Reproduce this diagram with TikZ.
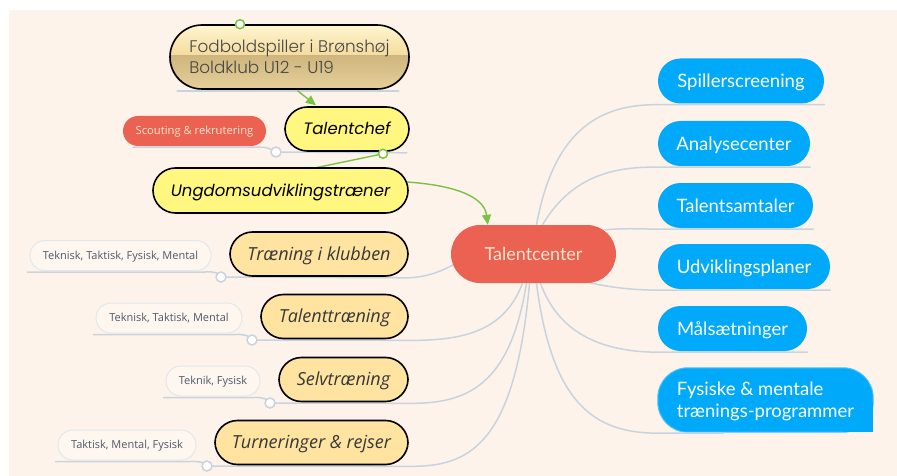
\documentclass[tikz,border=0pt]{standalone}
\usepackage{fontspec}
\usetikzlibrary{arrows.meta,calc}
\setmainfont{Lato}
\newfontfamily\lato{Lato}
\newfontfamily\osans{Open Sans}
\newfontfamily\pop{Poppins}
\newfontfamily\hand{Poppins Light}
\definecolor{peach}{HTML}{FDF3EA}
\definecolor{lgray}{HTML}{C9D3DE}
\definecolor{blue1}{HTML}{00A9FA}
\definecolor{red1}{HTML}{EB6152}
\definecolor{cream}{HTML}{FFE6CC}
\definecolor{orange1}{HTML}{FFE3A1}
\definecolor{yellow1}{HTML}{FFF77F}
\definecolor{green1}{HTML}{7CC242}
\definecolor{subtext}{HTML}{505868}
\definecolor{subborder}{HTML}{E4E6EA}
\definecolor{subfill}{HTML}{FEF7F0}
\definecolor{fbtop}{HTML}{FFF6D2}
\definecolor{fbmid}{HTML}{F4DB9C}
\definecolor{fbstep}{HTML}{CFB67E}
\definecolor{fbbot}{HTML}{E6D09A}
\pgfdeclarelayer{bgzero}
\pgfdeclarelayer{background}
\pgfsetlayers{bgzero,background,main}
\tikzset{
  bluebox/.style={rectangle, rounded corners=22.5, fill=blue1, text=white,
    font=\lato\fontsize{18.5}{21}\selectfont, minimum height=45, inner sep=0, text height=13.2, text depth=0},
  orangebox/.style={rectangle, rounded corners=22.5, fill=orange1, draw=black, line width=1.6,
    text=black!78, font=\osans\itshape\fontsize{18}{20}\selectfont, minimum height=44, inner sep=0,
    text height=12.9, text depth=0},
  yellowbox/.style={rectangle, rounded corners=22.5, fill=yellow1, draw=black, line width=1.6,
    text=black, font=\pop\itshape\fontsize{16.5}{20}\selectfont, minimum height=44, inner sep=0,
    text height=11.6, text depth=0},
  subbox/.style={rectangle, rounded corners=15, fill=subfill, draw=subborder, line width=1,
    text=subtext, font=\osans\fontsize{11}{13}\selectfont, minimum height=30, inner sep=0,
    text height=7.9, text depth=0},
  hub/.style={circle, draw=lgray, fill=white, line width=1.5, minimum size=10, inner sep=0},
  ghub/.style={circle, draw=green1, fill=white, line width=1.5, minimum size=9, inner sep=0},
  conn/.style={draw=lgray, line width=1.5, line cap=round},
  gline/.style={draw=green1, line width=1.4, line join=round, -{Triangle[length=10pt,width=9pt]}},
}
\begin{document}
\begin{tikzpicture}[x=1pt,y=-1pt]
\useasboundingbox (0,0) rectangle (897,476);
\begin{pgfonlayer}{bgzero}
\fill[white] (0,0) rectangle (897,476);
\fill[peach] (9,10) rectangle (897,476);
\end{pgfonlayer}

% central node
\node[rectangle, rounded corners=29, fill=red1, text=cream, minimum width=165, minimum height=58,
  inner sep=0, text height=12.9, text depth=0, font=\lato\fontsize{18}{21}\selectfont] (tc) at (533.5,254) {Talentcenter};

% right blue nodes
\node[bluebox, minimum width=166] (sp) at (741,81) {Spillerscreening};
\node[bluebox, minimum width=152] (ac) at (734,143.5) {Analysecenter};
\node[bluebox, minimum width=155] (ts) at (735.5,205.5) {Talentsamtaler};
\node[bluebox, minimum width=172] (up) at (744,266.5) {Udviklingsplaner};
\node[bluebox, minimum width=149] (ms) at (732.5,328.5) {Målsætninger};
\node[rectangle, minimum width=215, minimum height=64, inner sep=0, text=white, align=left,
  font=\lato\fontsize{18.5}{22}\selectfont] (fm) at (765.5,401) {Fysiske \& mentale\\trænings-programmer};
\begin{pgfonlayer}{background}
\fill[blue1, draw=blue1!70!white, line width=1, rounded corners=30] ($(fm.south west)+(0,-1)$) rectangle ($(fm.north east)+(0,-1)$);
\fill[blue1] ($(fm.south east)+(-30,-1.5)$) rectangle ($(fm.south east)+(-0.5,-31)$);
\end{pgfonlayer}

% left orange nodes
\node[orangebox, minimum width=178] (tk) at (319,254) {Træning i klubben};
\node[orangebox, minimum width=147] (tt) at (334.5,316.5) {Talenttræning};
\node[orangebox, minimum width=129] (st) at (343.5,379.5) {Selvtræning};
\node[orangebox, minimum width=193] (tr) at (311.5,442.5) {Turneringer \& rejser};

% sub nodes
\node[subbox, minimum width=181] (s1) at (120.5,255.5) {Teknisk, Taktisk, Fysisk, Mental};
\node[subbox, minimum width=146] (s2) at (169,318) {Teknisk, Taktisk, Mental};
\node[subbox, minimum width=94] (s3) at (213,381) {Teknik, Fysisk};
\node[subbox, minimum width=138] (s4) at (127,445) {Taktisk, Mental, Fysisk};

% hubs
\node[hub] (ctk) at (221,277) {};
\node[hub] (ctt) at (252,340) {};
\node[hub] (cst) at (270,403) {};
\node[hub] (ctr) at (207,466) {};

% top-left nodes
\node[rectangle, rounded corners=32, draw=black, line width=1.6, minimum width=239, minimum height=64,
  inner sep=0, text=black!72, align=left, font=\hand\fontsize{16.8}{21.5}\selectfont] (fb) at (289.5,57)
  {Fodboldspiller i Brønshøj\\Boldklub U12 - U19};
\begin{pgfonlayer}{background}
\begin{scope}
\clip[rounded corners=32] (fb.south west) rectangle (fb.north east);
\shade[top color=fbtop, bottom color=fbmid] (fb.north west) rectangle ($(fb.east)+(0,-1)$);
\shade[top color=fbstep, bottom color=fbbot] ($(fb.west)+(0,-1)$) rectangle (fb.south east);
\end{scope}
\end{pgfonlayer}
\node[yellowbox, minimum width=124] (tch) at (347,129) {Talentchef};
\node[yellowbox, minimum width=255, minimum height=45] (ud) at (280.5,190.5) {Ungdomsudviklingstræner};
\node[rectangle, rounded corners=15, fill=red1, text=cream, minimum width=143, minimum height=30, inner sep=0,
  text height=8, text depth=0, font=\osans\fontsize{11.2}{13}\selectfont] (sc) at (194.5,131) {Scouting \& rekrutering};
\node[hub] (csc) at (276,152) {};
\node[ghub] (g1) at ($(fb.north)+(-49.5,0)$) {};
\node[ghub] (g2) at ($(tch.south)+(36,2)$) {};

\begin{pgfonlayer}{background}
% right connectors
\draw[conn] ($(tc.north)+(3,0)$) .. controls (553,135) and (595,104) .. ($(sp.south west)+(0,1)$) -- ($(sp.south east)+(0,1)$);
\draw[conn] ($(tc.north)+(9,0)$) .. controls (568,182) and (605,166) .. ($(ac.south west)+(0,1)$) -- ($(ac.south east)+(0,1)$);
\draw[conn] ($(tc.north east)+(-11,5)$) .. controls (625,228) and (640,229) .. ($(ts.south west)+(0,1)$) -- ($(ts.south east)+(0,1)$);
\draw[conn] ($(tc.south east)+(-29,-1)$) .. controls (612,288) and (635,290) .. ($(up.south west)+(0,1)$) -- ($(up.south east)+(0,1)$);
\draw[conn] ($(tc.south)+(7,0)$) .. controls (558,332) and (600,352) .. ($(ms.south west)+(0,1)$) -- ($(ms.south east)+(0,1)$);
\draw[conn] ($(tc.south)+(3,0)$) .. controls (552,405) and (595,433) .. ($(fm.south west)+(0,0)$) -- ($(fm.south east)+(-150,0)$);
% left connectors
\draw[conn] ($(tc.west)+(2,11)$) .. controls (438,273) and (425,277) .. ($(tk.south east)+(0,1)$) -- (ctk);
\draw[conn] ($(tc.south)+(-11,0)$) .. controls (505,330) and (465,341) .. ($(tt.south east)+(0,1)$) -- (ctt);
\draw[conn] ($(tc.south)+(-7,0)$) .. controls (510,385) and (468,404) .. ($(st.south east)+(0,1)$) -- (cst);
\draw[conn] ($(tc.south)+(-4,0)$) .. controls (515,447) and (468,467) .. ($(tr.south east)+(0,1)$) -- (ctr);
% sub connectors
\draw[conn] ($(s1.south west)+(-2,1)$) -- ($(s1.south east)+(-6,1)$) .. controls (214,271) and (218,274) .. (ctk);
\draw[conn] ($(s2.south west)+(-2,1)$) -- ($(s2.south east)+(-6,1)$) .. controls (245,334) and (249,337) .. (ctt);
\draw[conn] ($(s3.south west)+(-2,1)$) -- ($(s3.south east)+(-6,1)$) .. controls (263,397) and (267,400) .. (cst);
\draw[conn] ($(s4.south west)+(-2,1)$) -- ($(s4.south east)+(-6,1)$) .. controls (199,461) and (203,463) .. (ctr);
\draw[conn] ($(sc.south west)+(10,1)$) -- ($(sc.south east)+(-6,1)$) .. controls (268,147) and (272,150) .. (csc);
\draw[conn] (csc) -- ($(tch.south east)+(-3,1)$);
\draw[conn] ($(fb.south west)+(8,1)$) -- ($(fb.south east)+(-11,1)$);
% green relations
\draw[gline] ($(fb.south)+(8,1)$) -- ($(tch.north)+(-31,-1)$);
\draw[gline] (g2) -- (305,170) -- (330,180) -- ($(ud.east)+(-10,-9)$) .. controls (450,184) and (484,195) .. ($(tc.north west)+(37,0)$);
\end{pgfonlayer}
\end{tikzpicture}
\end{document}
